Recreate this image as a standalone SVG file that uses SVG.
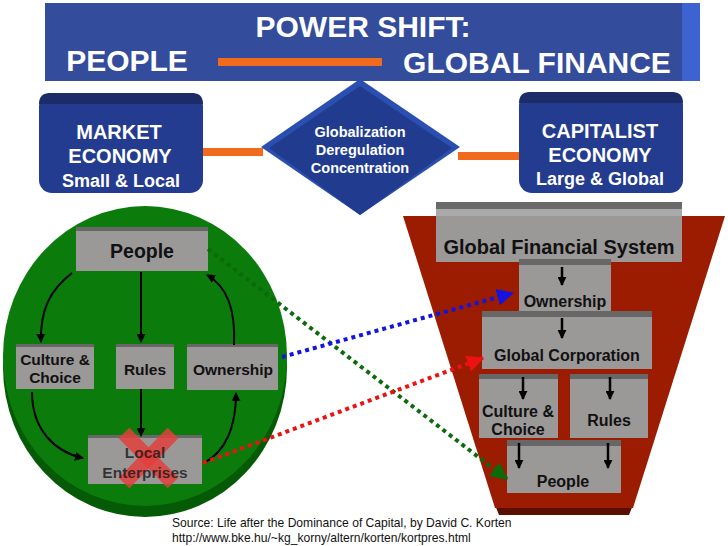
<svg xmlns="http://www.w3.org/2000/svg" width="728" height="546" viewBox="0 0 728 546">
<style>
.t{font-family:"Liberation Sans",Arial,sans-serif;font-weight:bold;text-anchor:middle}
.w{fill:#ffffff}
.k{fill:#111111}
.box{fill:#9b9898}
.band{fill:#676767}
.blk{stroke:#000;stroke-width:2;fill:none}
.sm{stroke:#000;stroke-width:2.5;fill:none}
</style>
<defs>
<marker id="ah" viewBox="0 0 10 10" refX="9" refY="5" markerWidth="9" markerHeight="9" markerUnits="userSpaceOnUse" orient="auto"><path d="M0,0 L10,5 L0,10 z" fill="#000"/></marker>
<marker id="ag" viewBox="0 0 16 16" refX="15" refY="8" markerWidth="17" markerHeight="17" markerUnits="userSpaceOnUse" orient="auto"><path d="M0,0 L16,8 L0,16 z" fill="#0b6b0b"/></marker>
<marker id="ab" viewBox="0 0 16 16" refX="15" refY="8" markerWidth="17" markerHeight="17" markerUnits="userSpaceOnUse" orient="auto"><path d="M0,0 L16,8 L0,16 z" fill="#1414e0"/></marker>
<marker id="ar" viewBox="0 0 16 16" refX="15" refY="8" markerWidth="17" markerHeight="17" markerUnits="userSpaceOnUse" orient="auto"><path d="M0,0 L16,8 L0,16 z" fill="#ee1111"/></marker>
</defs>
<rect width="728" height="546" fill="#ffffff"/>

<g id="banner">
<rect x="45" y="3" width="655" height="78" fill="#334c9b"/>
<rect x="682" y="3" width="18" height="78" fill="#3d63d0"/>
<text class="t w" x="363" y="37" font-size="30">POWER SHIFT:</text>
<text class="t w" x="127" y="71" font-size="30">PEOPLE</text>
<text class="t w" x="537" y="73" font-size="30">GLOBAL FINANCE</text>
<rect x="218" y="58" width="164" height="8" fill="#f26a1b"/>
</g>

<g id="connectors-top">
<rect x="201" y="148" width="62" height="8" fill="#f26a1b"/>
<rect x="458" y="152" width="62" height="8" fill="#f26a1b"/>
</g>

<g id="market">
<rect x="39" y="93" width="164" height="100" rx="13" fill="#233c8f"/>
<path d="M50,93 H192 Q203,93 203,104 H39 Q39,93 50,93 z" fill="#1b2c68"/>
<text class="t w" x="119" y="139" font-size="20">MARKET</text>
<text class="t w" x="120" y="163" font-size="20">ECONOMY</text>
<text class="t w" x="121" y="187" font-size="18">Small &amp; Local</text>
</g>

<g id="capitalist">
<rect x="519" y="92" width="164" height="101" rx="13" fill="#233c8f"/>
<path d="M530,92 H672 Q683,92 683,103 H519 Q519,92 530,92 z" fill="#1b2c68"/>
<text class="t w" x="600" y="138" font-size="20">CAPITALIST</text>
<text class="t w" x="600" y="162" font-size="20">ECONOMY</text>
<text class="t w" x="600" y="185" font-size="18">Large &amp; Global</text>
</g>

<g id="diamond">
<polygon points="360,79 460,147 360,215 261,147" fill="#2b4fb0"/>
<polygon points="360,86 452,148 360,215 269,148" fill="#213c8f"/>
<text class="t w" x="360" y="137" font-size="14.5">Globalization</text>
<text class="t w" x="360" y="155" font-size="14.5">Deregulation</text>
<text class="t w" x="360" y="173" font-size="14.5">Concentration</text>
</g>

<g id="green-circle">
<ellipse cx="145" cy="367" rx="142" ry="150" fill="#055a05"/>
<ellipse cx="145" cy="356" rx="142" ry="150" fill="#0b7c0b"/>
</g>

<g id="funnel">
<polygon points="495,505 633,505 629,515 499,515" fill="#5a0e00"/>
<polygon points="403,216 725,216 633,508 495,508" fill="#9b1c00"/>
</g>

<g id="l-people">
<rect class="box" x="76" y="227" width="132" height="44"/>
<rect class="band" x="76" y="227" width="132" height="4"/>
<text class="t k" x="142" y="258" font-size="19.5">People</text>
</g>
<g id="l-culture">
<rect class="box" x="16" y="344" width="78" height="45"/>
<rect class="band" x="16" y="344" width="78" height="3"/>
<text class="t k" x="55" y="365" font-size="15.5">Culture &amp;</text>
<text class="t k" x="55" y="383" font-size="15.5">Choice</text>
</g>
<g id="l-rules">
<rect class="box" x="116" y="344" width="58" height="45"/>
<rect class="band" x="116" y="344" width="58" height="3"/>
<text class="t k" x="145" y="375" font-size="15.5">Rules</text>
</g>
<g id="l-ownership">
<rect class="box" x="187" y="344" width="91" height="46"/>
<rect class="band" x="187" y="344" width="91" height="3"/>
<text class="t k" x="233" y="375" font-size="15.5">Ownership</text>
</g>
<g id="l-local">
<rect class="box" x="88" y="435" width="114" height="49"/>
<rect class="band" x="88" y="435" width="114" height="3"/>
<g stroke="#e2403c" stroke-opacity="0.85" stroke-width="15">
<line x1="124" y1="433" x2="173" y2="483"/>
<line x1="173" y1="433" x2="124" y2="483"/>
</g>
<text class="t" x="145" y="458" font-size="15.5" fill="#111" fill-opacity="0.75">Local</text>
<text class="t" x="145" y="478" font-size="15.5" fill="#111" fill-opacity="0.75">Enterprises</text>
</g>

<g id="r-gfs">
<rect class="box" x="436" y="202" width="246" height="60"/>
<rect x="436" y="202" width="246" height="7" fill="#6a6a6a"/>
<rect x="436" y="209" width="246" height="7" fill="#aaaaaa"/>
<text class="t k" x="559" y="254" font-size="20">Global Financial System</text>
</g>
<g id="r-ownership">
<rect class="box" x="519" y="259" width="92" height="53"/>
<rect class="band" x="519" y="259" width="92" height="6"/>
<text class="t k" x="565" y="307" font-size="16">Ownership</text>
</g>
<g id="r-corp">
<rect class="box" x="482" y="311" width="170" height="58"/>
<rect class="band" x="482" y="311" width="170" height="6"/>
<text class="t k" x="567" y="361" font-size="16">Global Corporation</text>
</g>
<g id="r-culture">
<rect class="box" x="479" y="374" width="79" height="64"/>
<rect class="band" x="479" y="374" width="79" height="5"/>
<text class="t k" x="518" y="417" font-size="16">Culture &amp;</text>
<text class="t k" x="518" y="435" font-size="16">Choice</text>
</g>
<g id="r-rules">
<rect class="box" x="570" y="374" width="78" height="64"/>
<rect class="band" x="570" y="374" width="78" height="5"/>
<text class="t k" x="609" y="426" font-size="16">Rules</text>
</g>
<g id="r-people">
<rect class="box" x="507" y="440" width="114" height="53"/>
<rect class="band" x="507" y="440" width="114" height="6"/>
<text class="t k" x="563" y="487" font-size="16">People</text>
</g>

<g id="connectors">
<path class="blk" d="M141,272 L141,342" marker-end="url(#ah)"/>
<path class="blk" d="M141,389 L141,436" marker-end="url(#ah)"/>
<path class="blk" d="M72,273 C50,290 40,310 41,342" marker-end="url(#ah)"/>
<path class="blk" d="M32,392 C32,430 55,452 83,458" marker-end="url(#ah)"/>
<path class="blk" d="M204,463 C228,450 236,425 236,393" marker-end="url(#ah)"/>
<path class="blk" d="M234,345 C236,305 225,285 207,275" marker-end="url(#ah)"/>
<path class="sm" d="M562,267 L562,285" marker-end="url(#ah)"/>
<path class="sm" d="M562,318 L562,338" marker-end="url(#ah)"/>
<path class="sm" d="M523,377 L523,399" marker-end="url(#ah)"/>
<path class="sm" d="M610,377 L610,399" marker-end="url(#ah)"/>
<path class="sm" d="M519,443 L519,468" marker-end="url(#ah)"/>
<path class="sm" d="M608,443 L608,468" marker-end="url(#ah)"/>
<path d="M208,249 L507,479" stroke="#0b6b0b" stroke-width="4" stroke-dasharray="4 4" fill="none" marker-end="url(#ag)"/>
<path d="M282,357 L513,293" stroke="#1414e0" stroke-width="4" stroke-dasharray="4 4" fill="none" marker-end="url(#ab)"/>
<path d="M203,463 L483,358" stroke="#ee1111" stroke-width="4" stroke-dasharray="4 4" fill="none" marker-end="url(#ar)"/>
</g>

<g id="source">
<text x="172" y="527" font-family="Liberation Sans,Arial,sans-serif" font-size="12.1" fill="#111">Source: Life after the Dominance of Capital, by David C. Korten</text>
<text x="172" y="542" font-family="Liberation Sans,Arial,sans-serif" font-size="12.1" fill="#111">http://www.bke.hu/~kg_korny/altern/korten/kortpres.html</text>
</g>
</svg>
